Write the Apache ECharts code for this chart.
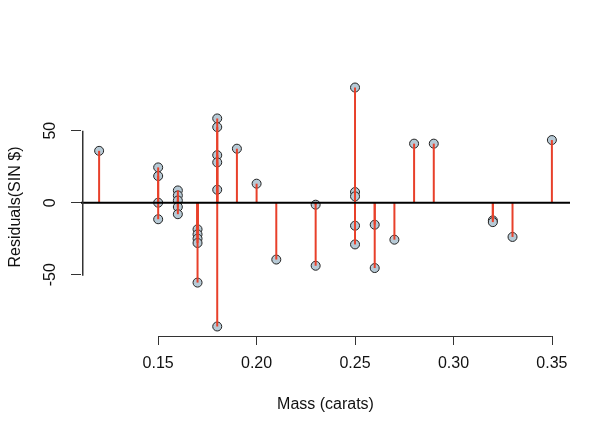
<!DOCTYPE html>
<html>
<head>
<meta charset="utf-8">
<script src="https://cdn.jsdelivr.net/npm/echarts@6/dist/echarts.min.js"></script>
<style>
  html, body { margin: 0; padding: 0; background: #fff; }
  #chart { width: 611px; height: 435px; }
</style>
</head>
<body>
<div id="chart"></div>
<script>
// 数据：每个点的质量 (carats) 与残差
var mass = [
  0.12,
  0.15, 0.15, 0.15, 0.15,
  0.16, 0.16, 0.16, 0.16, 0.16,
  0.17, 0.17, 0.17, 0.17, 0.17,
  0.18, 0.18, 0.18, 0.18, 0.18, 0.18,
  0.19, 0.20, 0.21,
  0.23, 0.23,
  0.25, 0.25, 0.25, 0.25, 0.25,
  0.26, 0.26, 0.27, 0.28, 0.29,
  0.32, 0.32, 0.33, 0.35
];
var residual = [
  36,
  24.5, 18.5, 0, -11.5,
  8.5, 5, 1.5, -3, -8,
  -18.5, -22, -25, -28, -55.5,
  58.5, 52.5, 33, 28, 9, -86,
  37.5, 13.2, -39.5,
  -1.4, -43.8,
  80, 7.4, 4.4, -16, -29,
  -15.3, -45.4, -25.7, 41, 41,
  -12.3, -13.5, -23.8, 43.5
];
var xTicks = [0.15, 0.20, 0.25, 0.30, 0.35];
var yTicks = [-50, 0, 50];

var xMin = 0.1108, xMax = 0.3592;
var yMin = -92.6, yMax = 86.6;

var points = mass.map(function (m, i) { return [m, residual[i]]; });

var chart = echarts.init(document.getElementById('chart'));

var font = 'Liberation Sans, Arial, sans-serif';

function segmentItem(color, width) {
  return function (params, api) {
    var p0 = api.coord([api.value(0), api.value(1)]);
    var p1 = api.coord([api.value(2), api.value(3)]);
    return {
      type: 'line',
      shape: { x1: p0[0], y1: p0[1], x2: p1[0], y2: p1[1] },
      style: { stroke: color, lineWidth: width }
    };
  };
}

var option = {
  animation: false,
  grid: { left: 78, right: 41, top: 78, bottom: 99 },
  xAxis: {
    type: 'value',
    min: xMin,
    max: xMax,
    splitLine: { show: false },
    axisLine: { show: false, onZero: false },
    axisTick: { show: true, length: 9, customValues: xTicks, lineStyle: { color: '#333' } },
    axisLabel: {
      customValues: xTicks,
      margin: 20,
      fontSize: 16,
      fontFamily: font,
      color: '#111',
      formatter: function (v) { return v.toFixed(2); }
    },
    name: 'Mass (carats)',
    nameLocation: 'middle',
    nameGap: 61,
    nameTextStyle: { fontSize: 16, fontFamily: font, color: '#111' }
  },
  yAxis: {
    type: 'value',
    min: yMin,
    max: yMax,
    splitLine: { show: false },
    axisLine: { show: false, onZero: false },
    axisTick: { show: true, length: 10, customValues: yTicks, lineStyle: { color: '#333' } },
    axisLabel: {
      customValues: yTicks,
      rotate: 90,
      margin: 22,
      fontSize: 16,
      fontFamily: font,
      color: '#111'
    },
    name: 'Residuals(SIN $)',
    nameLocation: 'middle',
    nameGap: 57,
    nameTextStyle: { fontSize: 16, fontFamily: font, color: '#111' }
  },
  series: [
    // 散点
    {
      type: 'scatter',
      data: points,
      symbol: 'circle',
      symbolSize: 9,
      z: 2,
      itemStyle: { color: '#b7cad6', borderColor: '#222', borderWidth: 1, opacity: 1 }
    },
    // 残差竖线
    {
      type: 'custom',
      data: points.map(function (p) { return [p[0], 0, p[0], p[1]]; }),
      z: 3,
      silent: true,
      renderItem: segmentItem('#e8402a', 2)
    },
    // 零线
    {
      type: 'custom',
      data: [[xMin, 0, xMax, 0]],
      z: 4,
      silent: true,
      renderItem: segmentItem('#000', 2)
    }
  ]
};

chart.setOption(option);

// R 风格坐标轴线：只画到首末刻度
var px = function (v) { return chart.convertToPixel({ gridIndex: 0 }, v); };
var xa = px([xTicks[0], yMin]);
var xb = px([xTicks[xTicks.length - 1], yMin]);
var ya = px([xTicks[0], yTicks[0]]);
var yb = px([xTicks[0], yTicks[yTicks.length - 1]]);
var gridRect = chart.getModel().getComponent('grid', 0).coordinateSystem.getRect();
// 纵轴线稍向右一像素，避开绘图区边缘
var yLineX = Math.round(gridRect.x) + 1;

chart.setOption({
  graphic: {
    elements: [
      {
        type: 'rect', id: 'xline', silent: true, z: 100,
        shape: { x: xa[0], y: Math.round(xa[1]), width: xb[0] - xa[0], height: 1 },
        style: { fill: '#333' }
      },
      {
        type: 'rect', id: 'yline', silent: true, z: 100,
        shape: { x: yLineX, y: Math.min(ya[1], yb[1]), width: 1.5, height: Math.abs(ya[1] - yb[1]) + 1 },
        style: { fill: '#333' }
      }
    ]
  }
});
</script>
</body>
</html>
